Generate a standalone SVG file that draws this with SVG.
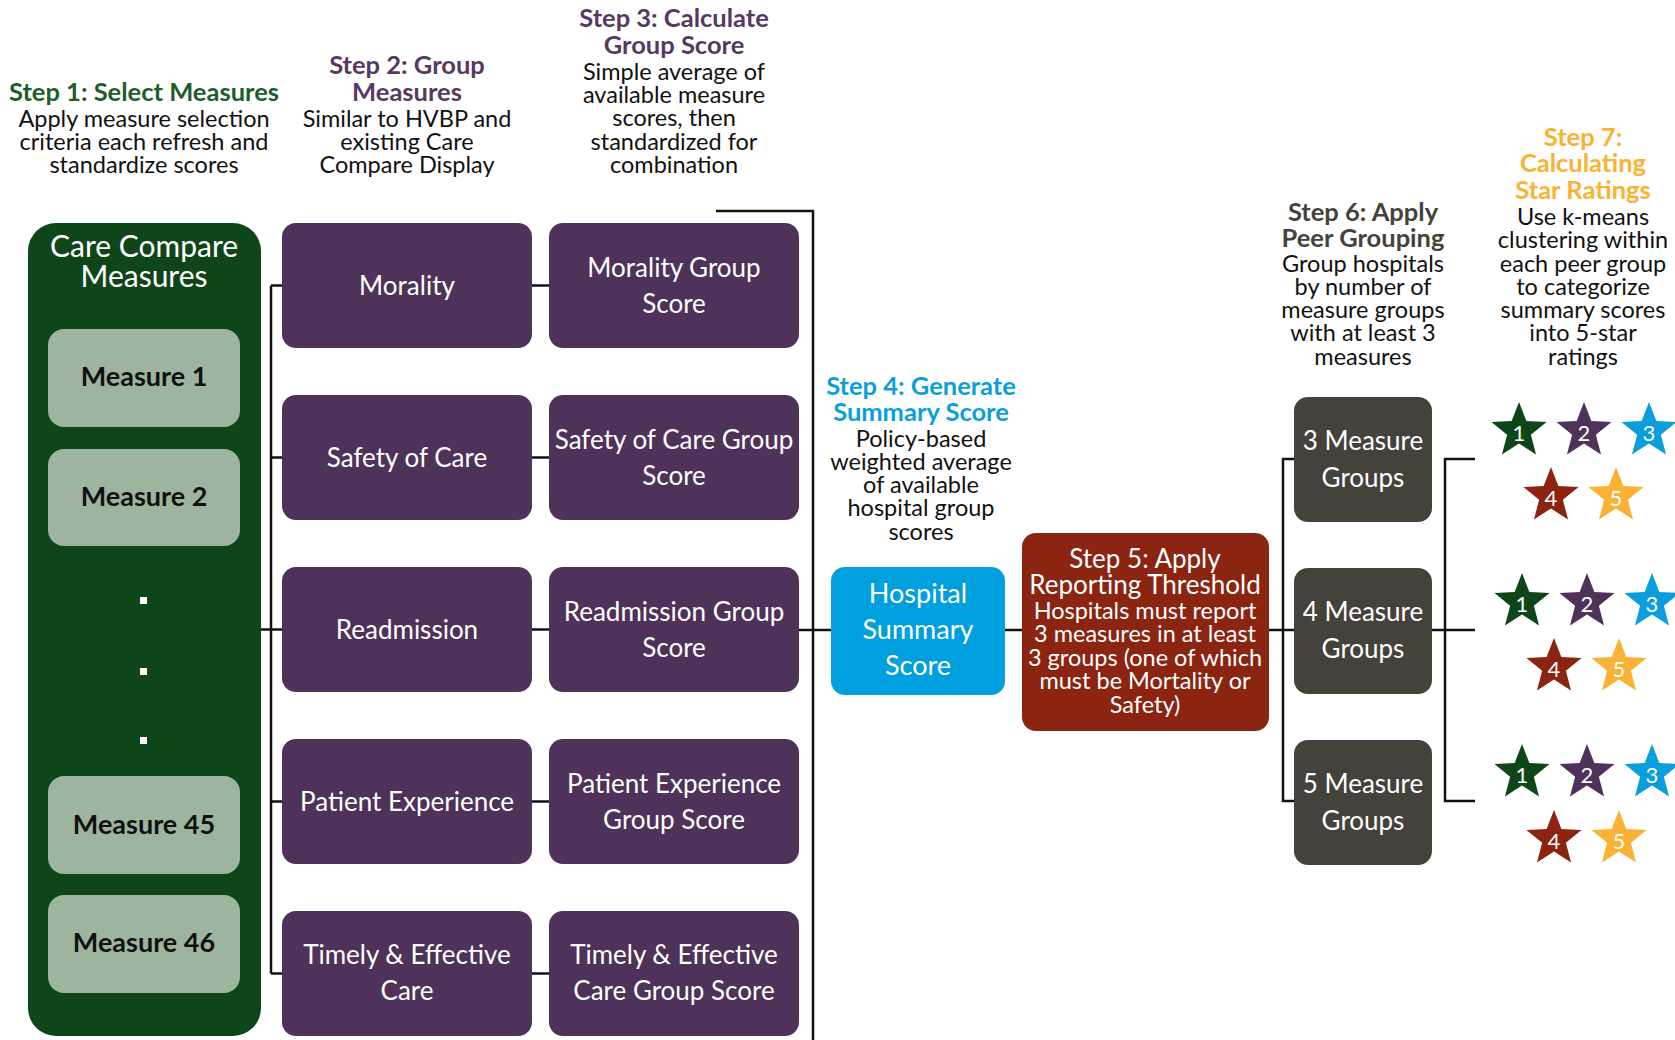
<svg xmlns="http://www.w3.org/2000/svg" xmlns:xlink="http://www.w3.org/1999/xlink" width="1675" height="1040" viewBox="0 0 1675 1040">
<style>
text{font-family:Lato,"Open Sans","Liberation Sans",sans-serif;text-anchor:middle}
.t{font-size:25.5px;font-weight:bold}
.b{font-size:23.5px;fill:#111}
.w{fill:#fff;font-size:26px}
.m{fill:#111;font-size:27px;font-weight:bold}
.pu{fill:#4e3259}
.gr{fill:#45413b}
.ln{fill:none;stroke:#111;stroke-width:2.5}
.sn{fill:#fff;font-size:22px}
</style>
<defs>
<path id="star" d="M0,-29 L7.35,-10.11 L27.58,-8.96 L11.89,3.86 L17.05,23.46 L0,12.5 L-17.05,23.46 L-11.89,3.86 L-27.58,-8.96 L-7.35,-10.11 Z"/>
</defs>
<rect width="1675" height="1040" fill="#fff"/>

<g id="connectors" class="ln">
<path d="M261 629.5H282"/>
<path d="M271 285.5V973.5"/>
<path d="M271 285.5H282M271 457.5H282M271 801.5H282M271 973.5H282"/>
<path d="M532 285.5H549M532 457.5H549M532 629.5H549M532 801.5H549M532 973.5H549"/>
<path d="M716 211H813V1040"/>
<path d="M799 630H831"/>
<path d="M1005 630H1022"/>
<path d="M1269 630H1294"/>
<path d="M1294 459H1283V801H1294"/>
<path d="M1432 630H1475"/>
<path d="M1475 459H1445V801H1475"/>
</g>

<g id="step1">
<text class="t" x="144" y="101" fill="#1b5e2a">Step 1: Select Measures</text>
<text class="b" x="144" y="127">Apply measure selection</text>
<text class="b" x="144" y="150">criteria each refresh and</text>
<text class="b" x="144" y="173">standardize scores</text>
</g>
<g id="step2">
<text class="t" x="407" y="74" fill="#56395f">Step 2: Group</text>
<text class="t" x="407" y="101" fill="#56395f">Measures</text>
<text class="b" x="407" y="127">Similar to HVBP and</text>
<text class="b" x="407" y="150">existing Care</text>
<text class="b" x="407" y="173">Compare Display</text>
</g>
<g id="step3">
<text class="t" x="674" y="27" fill="#56395f">Step 3: Calculate</text>
<text class="t" x="674" y="54" fill="#56395f">Group Score</text>
<text class="b" x="674" y="80">Simple average of</text>
<text class="b" x="674" y="103">available measure</text>
<text class="b" x="674" y="126">scores, then</text>
<text class="b" x="674" y="150">standardized for</text>
<text class="b" x="674" y="173">combination</text>
</g>

<g id="care-compare-measures">
<rect x="28" y="223" width="233" height="813" rx="28" fill="#0e4619"/>
<text class="w" x="144" y="257" style="font-size:30px">Care Compare</text>
<text class="w" x="144" y="287" style="font-size:30px">Measures</text>
<rect x="140" y="597" width="7" height="7" fill="#fff"/>
<rect x="140" y="668" width="7" height="7" fill="#fff"/>
<rect x="140" y="737" width="7" height="7" fill="#fff"/>
</g>
<g id="measure-1"><rect x="48" y="329" width="192" height="98" rx="16" fill="#9db59f"/><text class="m" x="144" y="386">Measure 1</text></g>
<g id="measure-2"><rect x="48" y="449" width="192" height="97" rx="16" fill="#9db59f"/><text class="m" x="144" y="506">Measure 2</text></g>
<g id="measure-45"><rect x="48" y="776" width="192" height="98" rx="16" fill="#9db59f"/><text class="m" x="144" y="834">Measure 45</text></g>
<g id="measure-46"><rect x="48" y="895" width="192" height="98" rx="16" fill="#9db59f"/><text class="m" x="144" y="952">Measure 46</text></g>

<g id="morality"><rect class="pu" x="282" y="223" width="250" height="125" rx="14"/><text class="w" x="407" y="295">Morality</text></g>
<g id="safety-of-care"><rect class="pu" x="282" y="395" width="250" height="125" rx="14"/><text class="w" x="407" y="467">Safety of Care</text></g>
<g id="readmission"><rect class="pu" x="282" y="567" width="250" height="125" rx="14"/><text class="w" x="407" y="639">Readmission</text></g>
<g id="patient-experience"><rect class="pu" x="282" y="739" width="250" height="125" rx="14"/><text class="w" x="407" y="811">Patient Experience</text></g>
<g id="timely-effective-care"><rect class="pu" x="282" y="911" width="250" height="125" rx="14"/><text class="w" x="407" y="964">Timely &amp; Effective</text><text class="w" x="407" y="1000">Care</text></g>

<g id="morality-group-score"><rect class="pu" x="549" y="223" width="250" height="125" rx="14"/><text class="w" x="674" y="277">Morality Group</text><text class="w" x="674" y="313">Score</text></g>
<g id="safety-group-score"><rect class="pu" x="549" y="395" width="250" height="125" rx="14"/><text class="w" x="674" y="449">Safety of Care Group</text><text class="w" x="674" y="485">Score</text></g>
<g id="readmission-group-score"><rect class="pu" x="549" y="567" width="250" height="125" rx="14"/><text class="w" x="674" y="621">Readmission Group</text><text class="w" x="674" y="657">Score</text></g>
<g id="patient-experience-group-score"><rect class="pu" x="549" y="739" width="250" height="125" rx="14"/><text class="w" x="674" y="793">Patient Experience</text><text class="w" x="674" y="829">Group Score</text></g>
<g id="timely-effective-group-score"><rect class="pu" x="549" y="911" width="250" height="125" rx="14"/><text class="w" x="674" y="964">Timely &amp; Effective</text><text class="w" x="674" y="1000">Care Group Score</text></g>

<g id="step4">
<text class="t" x="921" y="395" fill="#0a9fdc">Step 4: Generate</text>
<text class="t" x="921" y="421" fill="#0a9fdc">Summary Score</text>
<text class="b" x="921" y="447">Policy-based</text>
<text class="b" x="921" y="470">weighted average</text>
<text class="b" x="921" y="493">of available</text>
<text class="b" x="921" y="516">hospital group</text>
<text class="b" x="921" y="540">scores</text>
</g>
<g id="hospital-summary-score">
<rect x="831" y="567" width="174" height="128" rx="14" fill="#009fde"/>
<text class="w" x="918" y="603" style="font-size:27px">Hospital</text>
<text class="w" x="918" y="639" style="font-size:27px">Summary</text>
<text class="w" x="918" y="675" style="font-size:27px">Score</text>
</g>
<g id="step5">
<rect x="1022" y="533" width="247" height="198" rx="14" fill="#8b2410"/>
<text class="w" x="1145" y="568" style="font-size:26px">Step 5: Apply</text>
<text class="w" x="1145" y="594" style="font-size:26px">Reporting Threshold</text>
<text class="w" x="1145" y="619" style="font-size:23.5px">Hospitals must report</text>
<text class="w" x="1145" y="642" style="font-size:23.5px">3 measures in at least</text>
<text class="w" x="1145" y="666" style="font-size:23.5px">3 groups (one of which</text>
<text class="w" x="1145" y="689" style="font-size:23.5px">must be Mortality or</text>
<text class="w" x="1145" y="713" style="font-size:23.5px">Safety)</text>
</g>

<g id="step6">
<text class="t" x="1363" y="221" fill="#45413b">Step 6: Apply</text>
<text class="t" x="1363" y="247" fill="#45413b">Peer Grouping</text>
<text class="b" x="1363" y="272">Group hospitals</text>
<text class="b" x="1363" y="295">by number of</text>
<text class="b" x="1363" y="318">measure groups</text>
<text class="b" x="1363" y="341">with at least 3</text>
<text class="b" x="1363" y="365">measures</text>
</g>
<g id="group-3"><rect class="gr" x="1294" y="397" width="138" height="125" rx="14"/><text class="w" x="1363" y="450">3 Measure</text><text class="w" x="1363" y="487">Groups</text></g>
<g id="group-4"><rect class="gr" x="1294" y="568" width="138" height="126" rx="14"/><text class="w" x="1363" y="621">4 Measure</text><text class="w" x="1363" y="658">Groups</text></g>
<g id="group-5"><rect class="gr" x="1294" y="740" width="138" height="125" rx="14"/><text class="w" x="1363" y="793">5 Measure</text><text class="w" x="1363" y="830">Groups</text></g>

<g id="step7">
<text class="t" x="1583" y="146" fill="#f9b233">Step 7:</text>
<text class="t" x="1583" y="172" fill="#f9b233">Calculating</text>
<text class="t" x="1583" y="199" fill="#f9b233">Star Ratings</text>
<text class="b" x="1583" y="225">Use k-means</text>
<text class="b" x="1583" y="248">clustering within</text>
<text class="b" x="1583" y="272">each peer group</text>
<text class="b" x="1583" y="295">to categorize</text>
<text class="b" x="1583" y="318">summary scores</text>
<text class="b" x="1583" y="341">into 5-star</text>
<text class="b" x="1583" y="365">ratings</text>
</g>

<g id="stars-3">
<use href="#star" x="1519" y="431" fill="#0e4619"/><text class="sn" x="1519" y="441">1</text>
<use href="#star" x="1584" y="431" fill="#4e3259"/><text class="sn" x="1584" y="441">2</text>
<use href="#star" x="1649" y="431" fill="#0a9fdc"/><text class="sn" x="1649" y="441">3</text>
<use href="#star" x="1551" y="496" fill="#8b2410"/><text class="sn" x="1551" y="506">4</text>
<use href="#star" x="1616" y="496" fill="#f9b233"/><text class="sn" x="1616" y="506">5</text>
</g>
<g id="stars-4">
<use href="#star" x="1522" y="602" fill="#0e4619"/><text class="sn" x="1522" y="612">1</text>
<use href="#star" x="1587" y="602" fill="#4e3259"/><text class="sn" x="1587" y="612">2</text>
<use href="#star" x="1652" y="602" fill="#0a9fdc"/><text class="sn" x="1652" y="612">3</text>
<use href="#star" x="1554" y="667" fill="#8b2410"/><text class="sn" x="1554" y="677">4</text>
<use href="#star" x="1619" y="667" fill="#f9b233"/><text class="sn" x="1619" y="677">5</text>
</g>
<g id="stars-5">
<use href="#star" x="1522" y="773" fill="#0e4619"/><text class="sn" x="1522" y="783">1</text>
<use href="#star" x="1587" y="773" fill="#4e3259"/><text class="sn" x="1587" y="783">2</text>
<use href="#star" x="1652" y="773" fill="#0a9fdc"/><text class="sn" x="1652" y="783">3</text>
<use href="#star" x="1554" y="839" fill="#8b2410"/><text class="sn" x="1554" y="849">4</text>
<use href="#star" x="1619" y="839" fill="#f9b233"/><text class="sn" x="1619" y="849">5</text>
</g>
</svg>
